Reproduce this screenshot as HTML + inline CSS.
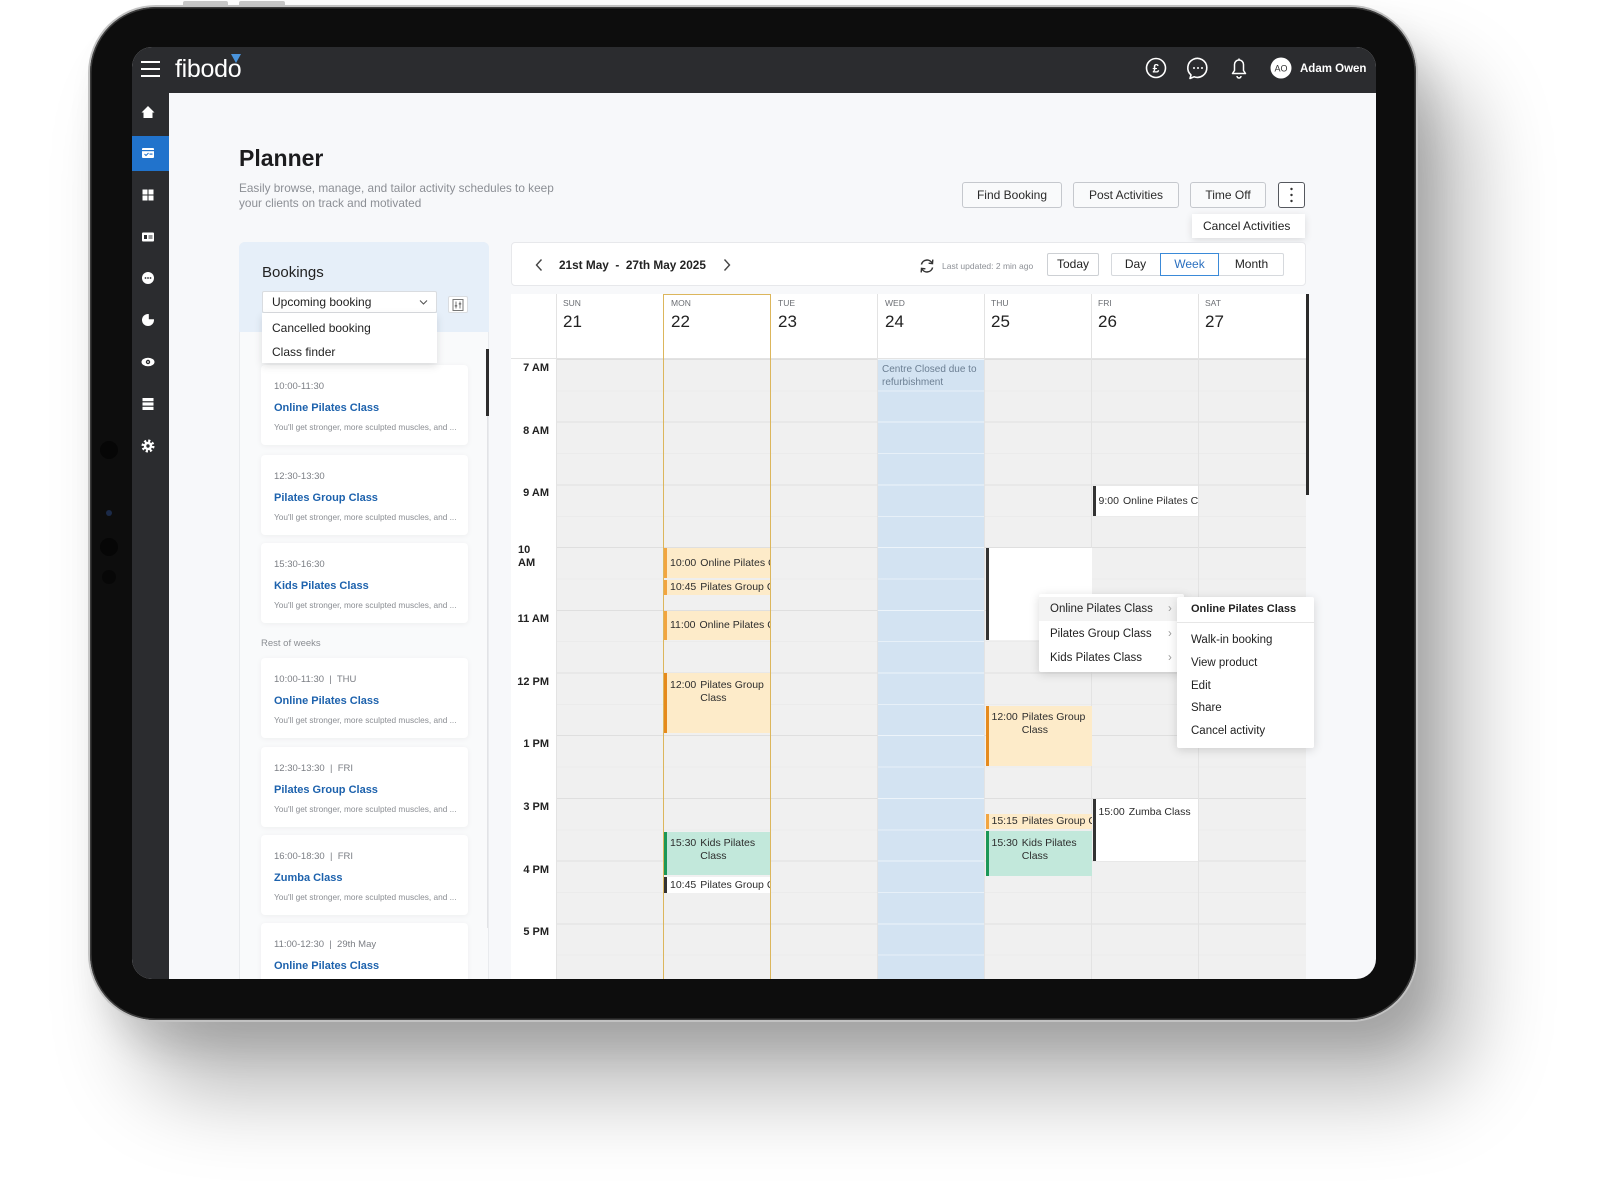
<!DOCTYPE html>
<html><head><meta charset="utf-8"><title>Planner</title>
<style>
*{box-sizing:border-box;margin:0;padding:0}
html,body{width:1600px;height:1200px}
body{background:#fff;position:relative;overflow:hidden;font-family:"Liberation Sans",Arial,sans-serif;color:#222}
.a{position:absolute}
.btn{position:absolute;top:135px;height:26px;border:1px solid #c5c8cd;border-radius:3px;background:#f9fafb;font-size:12px;line-height:24px;text-align:center;color:#2a2a2a;white-space:nowrap}
.card{position:absolute;left:129px;width:207px;height:80px;background:#fff;border-radius:4px;box-shadow:0 1px 6px rgba(0,0,0,0.05)}
.card .t{position:absolute;left:13px;top:16px;font-size:9.5px;line-height:12px;color:#7b7e84;white-space:pre}
.card .n{position:absolute;left:13px;top:36px;font-size:11px;line-height:14px;color:#1d62ad;font-weight:bold;white-space:nowrap}
.card .d{position:absolute;left:13px;top:57px;font-size:8.3px;line-height:11px;color:#8b8e93;white-space:nowrap}
.dl{position:absolute;top:251px;font-size:8.5px;line-height:10px;color:#6b6e73}
.dn{position:absolute;top:265px;font-size:17px;line-height:20px;color:#222}
.tl{position:absolute;left:375px;width:42px;text-align:right;font-size:11px;line-height:13px;font-weight:bold;color:#222;white-space:nowrap}
.vl{position:absolute;top:247px;width:1px;height:685px;background:#e3e3e3}
.ev{position:absolute;overflow:hidden;font-size:10.5px;color:#2d2d2d;white-space:nowrap;padding-left:3px;border-left:3px solid}
.ev b{font-weight:normal;display:inline-block;margin-right:4px;vertical-align:top}
.ev i{font-style:normal;display:inline-block;vertical-align:top}
.or{background:#fdebc9;border-color:#f2a540}
.od{background:#fdebc9;border-color:#e68a1c}
.gr{background:#c2e8db;border-color:#1c9757}
.wh{background:#fff;border-color:#333}
.mi{position:absolute;font-size:11.5px;line-height:24px;color:#222;white-space:nowrap}
</style></head><body>

<div class="a" style="left:183px;top:1px;width:45px;height:6px;background:#c9c9c9;border-radius:2px"></div>
<div class="a" style="left:239px;top:1px;width:46px;height:6px;background:#c9c9c9;border-radius:2px"></div>

<div class="a" style="left:88px;top:5px;width:1330px;height:1017px;border-radius:68px;background:#c2c2c2;box-shadow:50px 70px 85px rgba(0,0,0,0.28),15px 25px 35px rgba(0,0,0,0.12)"></div>
<div class="a" style="left:90px;top:7px;width:1326px;height:1013px;border-radius:66px;background:#0d0d0d;box-shadow:inset 0 0 0 1.5px #3c3c3c"></div>

<div class="a" style="left:100px;top:441px;width:18px;height:18px;border-radius:50%;background:#060606"></div>
<div class="a" style="left:106px;top:510px;width:6px;height:6px;border-radius:50%;background:#1b2a48"></div>
<div class="a" style="left:100px;top:538px;width:18px;height:18px;border-radius:50%;background:#060606"></div>
<div class="a" style="left:102px;top:570px;width:14px;height:14px;border-radius:50%;background:#070707"></div>

<div class="a" style="left:132px;top:47px;width:1244px;height:932px;border-radius:20px;overflow:hidden;background:#f7f8fa">

  <div class="a" style="left:0;top:0;width:1244px;height:46px;background:#2b2c2f"></div>
  <div class="a" style="left:0;top:46px;width:37px;height:886px;background:#2b2c2f"></div>
  <div class="a" style="left:0;top:89px;width:37px;height:35px;background:#2173cc"></div>

  <div class="a" style="left:9px;top:14px;width:19px;height:2px;background:#fff"></div>
  <div class="a" style="left:9px;top:21px;width:19px;height:2px;background:#fff"></div>
  <div class="a" style="left:9px;top:28px;width:19px;height:2px;background:#fff"></div>

  <div class="a" style="left:43px;top:10px;font-size:25px;line-height:25px;color:#fff;letter-spacing:-0.3px">fibodo</div>
  <svg class="a" style="left:99px;top:7px" width="11" height="10"><polygon points="0,0 10,0 5,9" fill="#4a94dc"/></svg>

  <svg class="a" style="left:0;top:0" width="1244" height="46">
    <circle cx="1024" cy="21" r="9.5" fill="none" stroke="#fff" stroke-width="1.6"/>
    <text x="1024" y="25.5" font-family="Liberation Sans" font-size="12" font-weight="bold" fill="#fff" text-anchor="middle">£</text>
    <path d="M1059,28 L1058,31.5 L1062,29.8 A9.5,9.5 0 1 0 1059,28 Z" fill="none" stroke="#fff" stroke-width="1.6" stroke-linejoin="round"/>
    <circle cx="1062" cy="21" r="1" fill="#fff"/><circle cx="1066" cy="21" r="1" fill="#fff"/><circle cx="1070" cy="21" r="1" fill="#fff"/>
    <path d="M1100.5,26.5 L1113.5,26.5 L1111.5,23.5 L1111.5,17.5 A4.5,4.5 0 0 0 1102.5,17.5 L1102.5,23.5 Z" fill="none" stroke="#fff" stroke-width="1.5" stroke-linejoin="round"/>
    <path d="M1105,29 A2,2 0 0 0 1109,29" fill="none" stroke="#fff" stroke-width="1.5"/>
    <line x1="1107" y1="11.5" x2="1107" y2="13" stroke="#fff" stroke-width="1.5"/>
    <circle cx="1149" cy="21" r="10.5" fill="#fff"/>
    <text x="1149" y="24.3" font-family="Liberation Sans" font-size="9" fill="#333" text-anchor="middle">AO</text>
    <text x="1168" y="25.2" font-family="Liberation Sans" font-size="11.5" font-weight="bold" fill="#fff">Adam Owen</text>
  </svg>

  <svg class="a" style="left:0;top:0" width="37" height="420">
    <polygon points="9.5,65.5 16,59 22.5,65.5 20.5,65.5 20.5,71 11.5,71 11.5,65.5" fill="#fff"/>
    <rect x="10" y="101" width="12" height="10" rx="1" fill="#fff"/>
    <rect x="10" y="103" width="12" height="1.2" fill="#2173cc"/>
    <polyline points="12.5,107 14,108.5 16.5,106" fill="none" stroke="#2173cc" stroke-width="1"/>
    <rect x="17.5" y="106.5" width="3" height="1.2" fill="#2173cc"/>
    <rect x="10.5" y="142.5" width="5" height="5" fill="#fff"/><rect x="16.5" y="142.5" width="5" height="5" fill="#fff"/>
    <rect x="10.5" y="148.5" width="5" height="5" fill="#fff"/><rect x="16.5" y="148.5" width="5" height="5" fill="#fff"/>
    <rect x="10" y="185.5" width="12" height="9" rx="1" fill="#fff"/>
    <rect x="12" y="188" width="3" height="4" fill="#2b2c2f"/><rect x="16.5" y="188.5" width="4" height="1" fill="#2b2c2f"/><rect x="16.5" y="190.5" width="4" height="1" fill="#2b2c2f"/>
    <circle cx="16" cy="231" r="6" fill="#fff"/>
    <circle cx="13.5" cy="231" r="0.9" fill="#2b2c2f"/><circle cx="16" cy="231" r="0.9" fill="#2b2c2f"/><circle cx="18.5" cy="231" r="0.9" fill="#2b2c2f"/>
    <circle cx="16" cy="273" r="6" fill="#fff"/>
    <path d="M16.8,272.2 L16.8,266 A6,6 0 0 1 22.8,272.2 Z" fill="#2b2c2f"/>
    <ellipse cx="16" cy="315" rx="6.5" ry="4.3" fill="#fff"/>
    <circle cx="16" cy="315" r="2.2" fill="#2b2c2f"/><circle cx="16" cy="315" r="0.9" fill="#fff"/>
    <rect x="10.5" y="351" width="11" height="3.2" fill="#fff"/><rect x="10.5" y="355.4" width="11" height="3.2" fill="#fff"/><rect x="10.5" y="359.8" width="11" height="3.2" fill="#fff"/>
    <circle cx="16" cy="399" r="5" fill="none" stroke="#fff" stroke-width="3" stroke-dasharray="2.1 1.83"/>
    <circle cx="16" cy="399" r="4.2" fill="#fff"/>
    <circle cx="16" cy="399" r="1.7" fill="#2b2c2f"/>
  </svg>

  <div class="a" style="left:107px;top:97px;font-size:23px;line-height:28px;font-weight:bold;color:#1c1c1e">Planner</div>
  <div class="a" style="left:107px;top:134px;font-size:11.8px;line-height:15px;color:#8c8f95;white-space:nowrap">Easily browse, manage, and tailor activity schedules to keep<br>your clients on track and motivated</div>

  <div class="btn" style="left:830px;width:100px">Find Booking</div>
  <div class="btn" style="left:941px;width:106px">Post Activities</div>
  <div class="btn" style="left:1058px;width:76px">Time Off</div>
  <div class="btn" style="left:1146px;width:27px;border-color:#55585e;background:#fff"></div>
  <div class="a" style="left:1060px;top:167px;width:113px;height:24px;background:#fff;box-shadow:0 2px 8px rgba(0,0,0,0.12);font-size:12px;line-height:24px;padding-left:11px;color:#222;white-space:nowrap">Cancel Activities</div>

  <div class="a" style="left:107px;top:195px;width:250px;height:760px;border-radius:6px 6px 0 0;background:#f9fafb;border:1px solid #e9ebee"></div>
  <div class="a" style="left:107px;top:195px;width:250px;height:90px;border-radius:6px 6px 0 0;background:#e6eff9"></div>
  <div class="a" style="left:130px;top:217px;font-size:15px;line-height:18px;color:#222">Bookings</div>

  <div class="card" style="top:318px"><div class="t">10:00-11:30</div><div class="n">Online Pilates Class</div><div class="d">You'll get stronger, more sculpted muscles, and ...</div></div>
  <div class="card" style="top:408px"><div class="t">12:30-13:30</div><div class="n">Pilates Group Class</div><div class="d">You'll get stronger, more sculpted muscles, and ...</div></div>
  <div class="card" style="top:496px"><div class="t">15:30-16:30</div><div class="n">Kids Pilates Class</div><div class="d">You'll get stronger, more sculpted muscles, and ...</div></div>
  <div class="a" style="left:129px;top:591px;font-size:9.5px;line-height:12px;color:#8b8e93">Rest of weeks</div>
  <div class="card" style="top:611px"><div class="t">10:00-11:30  |  THU</div><div class="n">Online Pilates Class</div><div class="d">You'll get stronger, more sculpted muscles, and ...</div></div>
  <div class="card" style="top:700px"><div class="t">12:30-13:30  |  FRI</div><div class="n">Pilates Group Class</div><div class="d">You'll get stronger, more sculpted muscles, and ...</div></div>
  <div class="card" style="top:788px"><div class="t">16:00-18:30  |  FRI</div><div class="n">Zumba Class</div><div class="d">You'll get stronger, more sculpted muscles, and ...</div></div>
  <div class="card" style="top:876px"><div class="t">11:00-12:30  |  29th May</div><div class="n">Online Pilates Class</div><div class="d">You'll get stronger, more sculpted muscles, and ...</div></div>

  <div class="a" style="left:354.5px;top:369px;width:1.5px;height:512px;background:#e2e3e6"></div>
  <div class="a" style="left:354px;top:302px;width:2.5px;height:67px;background:#2d2d2d"></div>

  <div class="a" style="left:130px;top:244px;width:175px;height:22px;background:#fff;border:1px solid #d9dce0;border-radius:2px;font-size:12px;line-height:20px;padding-left:9px;color:#222;white-space:nowrap">Upcoming booking</div>
  <div class="a" style="left:316px;top:249px;width:20px;height:17px;background:#fff;border:1px solid #d9dce0;border-radius:2px"></div>
  <div class="a" style="left:130px;top:266px;width:175px;height:50px;background:#fff;box-shadow:0 3px 8px rgba(0,0,0,0.12)"></div>
  <div class="mi" style="left:140px;top:269px;font-size:12px">Cancelled booking</div>
  <div class="mi" style="left:140px;top:293px;font-size:12px">Class finder</div>

  <div class="a" style="left:379px;top:195px;width:795px;height:44px;background:#fff;border:1px solid #e7e8eb;border-radius:4px"></div>
  <div class="a" style="left:427px;top:210px;font-size:11.8px;line-height:16px;font-weight:bold;color:#222;white-space:pre">21st May  -  27th May 2025</div>
  <div class="a" style="left:810px;top:213px;font-size:8.5px;line-height:12px;color:#8d9096;white-space:nowrap">Last updated: 2 min ago</div>
  <div class="a" style="left:915px;top:206px;width:52px;height:23px;background:#fff;border:1px solid #cdd0d4;border-radius:2px;font-size:12px;line-height:21px;text-align:center;color:#222">Today</div>
  <div class="a" style="left:979px;top:206px;width:173px;height:23px;background:#fff;border:1px solid #d6d9dd;border-radius:2px"></div>
  <div class="a" style="left:979px;top:206px;width:49px;height:23px;font-size:12px;line-height:23px;text-align:center;color:#222">Day</div>
  <div class="a" style="left:1028px;top:206px;width:59px;height:23px;border:1px solid #3b8ad8;font-size:12px;line-height:21px;text-align:center;color:#2a6fbf">Week</div>
  <div class="a" style="left:1087px;top:206px;width:65px;height:23px;font-size:12px;line-height:23px;text-align:center;color:#222">Month</div>

  <div class="a" style="left:379px;top:247px;width:795px;height:685px;background:#fff"></div>
  <div class="a" style="left:424px;top:312px;width:750px;height:620px;background-color:#f0f0f0;background-image:repeating-linear-gradient(180deg,#dfdfdf 0px,#dfdfdf 1px,transparent 1px,transparent 31.35px,#ebebeb 31.35px,#ebebeb 32.35px,transparent 32.35px,transparent 62.7px)"></div>
  <div class="a" style="left:745.4px;top:312px;width:107.2px;height:620px;background-color:#d3e3f2;background-image:repeating-linear-gradient(180deg,rgba(255,255,255,0.6) 0px,rgba(255,255,255,0.6) 1px,transparent 1px,transparent 31.35px,rgba(255,255,255,0.45) 31.35px,rgba(255,255,255,0.45) 32.35px,transparent 32.35px,transparent 62.7px)"></div>
  <div class="a" style="left:379px;top:311px;width:795px;height:1px;background:#e3e3e3"></div>
  <div class="vl" style="left:424px"></div>
  <div class="vl" style="left:531px"></div>
  <div class="vl" style="left:638px"></div>
  <div class="vl" style="left:745px"></div>
  <div class="vl" style="left:852px"></div>
  <div class="vl" style="left:959px"></div>
  <div class="vl" style="left:1066px"></div>

  <div class="dl" style="left:431px">SUN</div><div class="dn" style="left:431px">21</div>
  <div class="dl" style="left:539px">MON</div><div class="dn" style="left:539px">22</div>
  <div class="dl" style="left:646px">TUE</div><div class="dn" style="left:646px">23</div>
  <div class="dl" style="left:753px">WED</div><div class="dn" style="left:753px">24</div>
  <div class="dl" style="left:859px">THU</div><div class="dn" style="left:859px">25</div>
  <div class="dl" style="left:966px">FRI</div><div class="dn" style="left:966px">26</div>
  <div class="dl" style="left:1073px">SAT</div><div class="dn" style="left:1073px">27</div>

  <div class="tl" style="top:315px">7 AM</div>
  <div class="tl" style="top:378px">8 AM</div>
  <div class="tl" style="top:440px">9 AM</div>
  <div class="a" style="left:386px;top:497px;font-size:11px;line-height:13px;font-weight:bold;color:#222">10<br>AM</div>
  <div class="tl" style="top:566px">11 AM</div>
  <div class="tl" style="top:629px">12 PM</div>
  <div class="tl" style="top:691px">1 PM</div>
  <div class="tl" style="top:754px">3 PM</div>
  <div class="tl" style="top:817px">4 PM</div>
  <div class="tl" style="top:879px">5 PM</div>

  <div class="a" style="left:750px;top:315.5px;font-size:10px;line-height:13px;color:#6c7f93;white-space:nowrap">Centre Closed due to<br>refurbishment</div>

  <div class="ev or" style="left:532px;top:501px;width:106px;height:30px;line-height:30px"><b>10:00</b><i>Online Pilates Class</i></div>
  <div class="ev or" style="left:532px;top:533px;width:106px;height:15px;line-height:15px"><b>10:45</b><i>Pilates Group Class</i></div>
  <div class="ev or" style="left:532px;top:564px;width:106px;height:29px;line-height:29px"><b>11:00</b><i>Online Pilates Class</i></div>
  <div class="ev od" style="left:532px;top:626px;width:106px;height:60px;line-height:13px;padding-top:5.5px"><b>12:00</b><i>Pilates Group<br>Class</i></div>
  <div class="ev gr" style="left:532px;top:785px;width:106px;height:43px;line-height:13px;padding-top:4.5px"><b>15:30</b><i>Kids Pilates<br>Class</i></div>
  <div class="ev wh" style="left:532px;top:830px;width:106px;height:16px;line-height:16px"><b>10:45</b><i>Pilates Group Class</i></div>

  <div class="ev wh" style="left:853.5px;top:501px;width:106px;height:92px"></div>
  <div class="ev od" style="left:853.5px;top:659px;width:106px;height:60px;line-height:13px;padding-top:4.5px"><b>12:00</b><i>Pilates Group<br>Class</i></div>
  <div class="ev or" style="left:853.5px;top:767px;width:106px;height:15px;line-height:15px"><b>15:15</b><i>Pilates Group Class</i></div>
  <div class="ev gr" style="left:853.5px;top:784px;width:106px;height:45px;line-height:13px;padding-top:5.5px"><b>15:30</b><i>Kids Pilates<br>Class</i></div>

  <div class="ev wh" style="left:960.5px;top:439px;width:105px;height:30px;line-height:30px"><b>9:00</b><i>Online Pilates Class</i></div>
  <div class="ev wh" style="left:960.5px;top:752px;width:105px;height:62px;line-height:13px;padding-top:6.5px"><b>15:00</b><i>Zumba Class</i></div>

  <div class="a" style="left:531px;top:247px;width:108px;height:700px;border:1.5px solid #dcb65c"></div>

  <div class="a" style="left:1173.5px;top:247px;width:3px;height:201px;background:#2b2b2b"></div>

  <svg class="a" style="left:0;top:0" width="1244" height="300">
    <polyline points="409.5,212.5 404.5,218 409.5,223.5" fill="none" stroke="#444" stroke-width="1.4"/>
    <polyline points="592.5,212.5 597.5,218 592.5,223.5" fill="none" stroke="#444" stroke-width="1.4"/>
    <path d="M789.4,217.5 A5.8,5.8 0 0 1 800.2,216.2" fill="none" stroke="#333" stroke-width="1.5"/>
    <polyline points="800.8,212.6 800.5,216.6 796.6,216.2" fill="none" stroke="#333" stroke-width="1.4"/>
    <path d="M800.6,220.5 A5.8,5.8 0 0 1 789.8,221.8" fill="none" stroke="#333" stroke-width="1.5"/>
    <polyline points="789.2,225.4 789.5,221.4 793.4,221.8" fill="none" stroke="#333" stroke-width="1.4"/>
    <polyline points="288,253.5 291.5,257 295,253.5" fill="none" stroke="#555" stroke-width="1.1"/>
    <rect x="321" y="252.5" width="10" height="11" fill="none" stroke="#777" stroke-width="1"/>
    <line x1="324" y1="254.5" x2="324" y2="261.5" stroke="#777" stroke-width="1"/>
    <line x1="328" y1="254.5" x2="328" y2="261.5" stroke="#777" stroke-width="1"/>
    <rect x="322.8" y="258" width="2.4" height="1.6" fill="#777"/>
    <rect x="326.8" y="256" width="2.4" height="1.6" fill="#777"/>
    <circle cx="1159.5" cy="142" r="1.2" fill="#333"/>
    <circle cx="1159.5" cy="148" r="1.2" fill="#333"/>
    <circle cx="1159.5" cy="154" r="1.2" fill="#333"/>
  </svg>

  <div class="a" style="left:907px;top:547px;width:145px;height:78px;background:#fff;border-radius:2px;box-shadow:0 2px 10px rgba(0,0,0,0.15)"></div>
  <div class="a" style="left:907px;top:550px;width:145px;height:24px;background:#f3f3f3"></div>
  <div class="mi" style="left:918px;top:550px">Online Pilates Class</div>
  <div class="mi" style="left:918px;top:575px">Pilates Group Class</div>
  <div class="mi" style="left:918px;top:599px">Kids Pilates Class</div>
  <div class="mi" style="left:1036px;top:550px;color:#999">›</div>
  <div class="mi" style="left:1036px;top:575px;color:#999">›</div>
  <div class="mi" style="left:1036px;top:599px;color:#999">›</div>

  <div class="a" style="left:1045px;top:550px;width:137px;height:151px;background:#fff;border-radius:2px;box-shadow:0 2px 10px rgba(0,0,0,0.15)"></div>
  <div class="mi" style="left:1059px;top:550px;font-weight:bold;font-size:11px">Online Pilates Class</div>
  <div class="a" style="left:1045px;top:575px;width:137px;height:1px;background:#e6e6e6"></div>
  <div class="mi" style="left:1059px;top:581px">Walk-in booking</div>
  <div class="mi" style="left:1059px;top:604px">View product</div>
  <div class="mi" style="left:1059px;top:627px">Edit</div>
  <div class="mi" style="left:1059px;top:649px">Share</div>
  <div class="mi" style="left:1059px;top:672px">Cancel activity</div>
</div>

</body></html>
